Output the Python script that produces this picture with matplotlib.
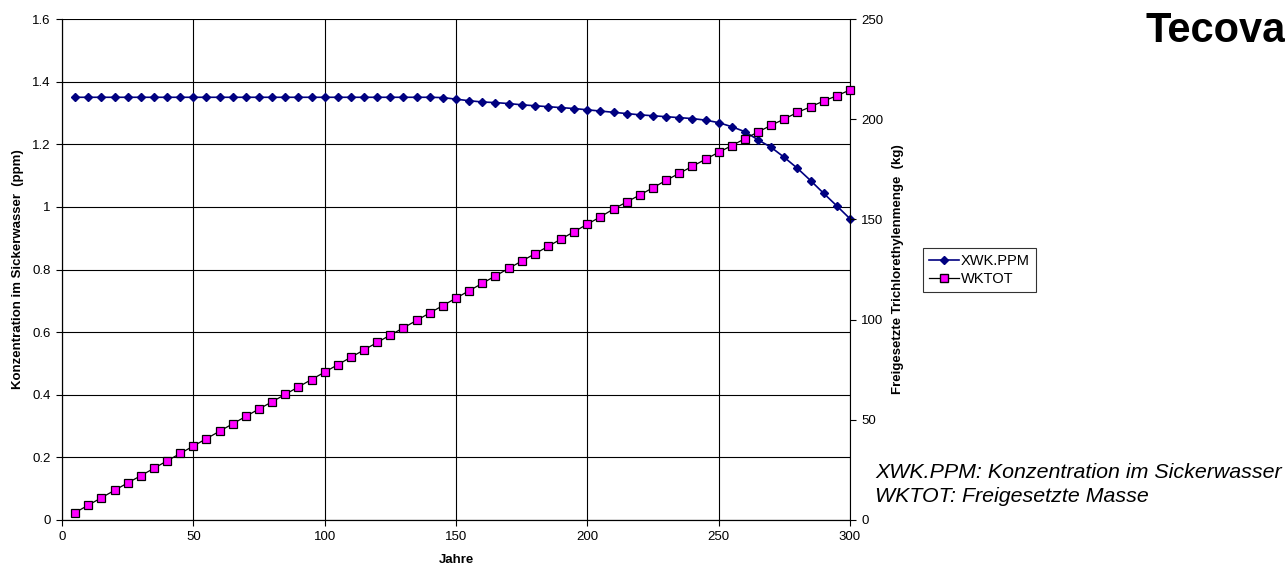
import matplotlib
matplotlib.use("Agg")
import matplotlib.pyplot as plt
from matplotlib.lines import Line2D

plt.rcParams['font.family'] = ['Liberation Sans', 'DejaVu Sans']

years = [5, 10, 15, 20, 25, 30, 35, 40, 45, 50, 55, 60, 65, 70, 75, 80, 85, 90, 95, 100,
         105, 110, 115, 120, 125, 130, 135, 140, 145, 150, 155, 160, 165, 170, 175, 180, 185, 190, 195, 200,
         205, 210, 215, 220, 225, 230, 235, 240, 245, 250, 255, 260, 265, 270, 275, 280, 285, 290, 295, 300]

xwk_ppm = [1.350, 1.350, 1.350, 1.350, 1.350, 1.350, 1.350, 1.350, 1.350, 1.350,
           1.350, 1.350, 1.350, 1.350, 1.350, 1.350, 1.350, 1.350, 1.350, 1.350,
           1.350, 1.350, 1.350, 1.350, 1.350, 1.350, 1.350, 1.350, 1.349, 1.344,
           1.339, 1.335, 1.333, 1.330, 1.326, 1.323, 1.320, 1.317, 1.314, 1.310,
           1.306, 1.302, 1.298, 1.294, 1.291, 1.288, 1.285, 1.282, 1.277, 1.269,
           1.256, 1.240, 1.214, 1.190, 1.158, 1.123, 1.084, 1.043, 1.003, 0.962]

wktot = [3.7, 7.4, 11.1, 14.8, 18.5, 22.1, 25.8, 29.5, 33.2, 36.9,
         40.6, 44.3, 48.0, 51.7, 55.4, 59.0, 62.7, 66.4, 70.1, 73.8,
         77.5, 81.2, 84.9, 88.6, 92.3, 95.9, 99.6, 103.3, 107.0, 110.7,
         114.4, 118.1, 121.8, 125.5, 129.2, 132.8, 136.5, 140.2, 143.9, 147.6,
         151.3, 155.2, 158.7, 162.2, 165.8, 169.5, 173.0, 176.5, 180.0, 183.5,
         186.8, 190.3, 193.6, 197.0, 200.1, 203.4, 206.2, 209.1, 211.7, 214.6]

left_ticks = [0, 0.2, 0.4, 0.6, 0.8, 1.0, 1.2, 1.4, 1.6]
left_ticklabels = ['0', '0.2', '0.4', '0.6', '0.8', '1', '1.2', '1.4', '1.6']
right_ticks = [0, 50, 100, 150, 200, 250]
x_ticks = [0, 50, 100, 150, 200, 250, 300]

W, H = 1285, 572
fig = plt.figure(figsize=(W / 100, H / 100), dpi=100)
ax = fig.add_axes([62 / W, 1 - 520 / H, (850 - 62) / W, (520 - 19) / H])
ax2 = ax.twinx()

ax.set_xlim(0, 300)
ax.set_ylim(0, 1.6)
ax2.set_ylim(0, 250)

ax.set_xticks(x_ticks)
ax.set_yticks(left_ticks)
ax.set_yticklabels(left_ticklabels)
ax2.set_yticks(right_ticks)

ax.grid(True, color='black', linewidth=0.8)
ax.set_axisbelow(True)
ax.spines['top'].set_visible(False)
ax2.spines['top'].set_visible(False)
ax.spines['right'].set_visible(False)
for a in (ax, ax2):
    for s in a.spines.values():
        s.set_linewidth(0.8)
ax.tick_params(axis='both', direction='out', length=4, width=0.8, labelsize=9.5, pad=4)
ax2.tick_params(axis='y', direction='out', length=4, width=0.8, labelsize=9.5, pad=4)

l1, = ax.plot(years, xwk_ppm, color='#000080', linewidth=1.2, marker='D', markersize=4.5,
              markerfacecolor='#000080', markeredgecolor='#000080', clip_on=False, zorder=4)
l2, = ax2.plot(years, wktot, color='black', linewidth=0.9, marker='s', markersize=6,
               markerfacecolor='#FF00FF', markeredgecolor='black', markeredgewidth=0.9,
               clip_on=False, zorder=5)

ax.set_xlabel('Jahre', fontsize=9.5, fontweight='bold', labelpad=8)
ax.set_ylabel('Konzentration im Sickerwasser  (ppm)', fontsize=9.5, fontweight='bold', labelpad=6)
ax2.set_ylabel('Freigesetzte Trichlorethylenmenge  (kg)', fontsize=9.5, fontweight='bold', labelpad=6)

h1 = Line2D([], [], color='#000080', linewidth=1.2, marker='D', markersize=4.5,
            markerfacecolor='#000080', markeredgecolor='#000080')
h2 = Line2D([], [], color='black', linewidth=0.9, marker='s', markersize=6,
            markerfacecolor='#FF00FF', markeredgecolor='black')
leg = fig.legend([h1, h2], ['XWK.PPM', 'WKTOT'], loc='upper left',
                 bbox_to_anchor=(923 / W, 1 - 248 / H), fontsize=10.5, frameon=True,
                 fancybox=False, edgecolor='black', handlelength=2.1, handletextpad=0.1,
                 borderpad=0.4, labelspacing=0.3, borderaxespad=0)
leg.get_frame().set_linewidth(0.8)

fig.text(875 / W, 1 - 472 / H, 'XWK.PPM: Konzentration im Sickerwasser', fontsize=15.4,
         style='italic', va='center', ha='left')
fig.text(875 / W, 1 - 497 / H, 'WKTOT: Freigesetzte Masse', fontsize=15.4,
         style='italic', va='center', ha='left')
fig.text(1145 / W, 1 - 31 / H, 'Tecova', fontsize=30, fontweight='bold',
         va='center', ha='left')

fig.savefig('out.png', dpi=100)
